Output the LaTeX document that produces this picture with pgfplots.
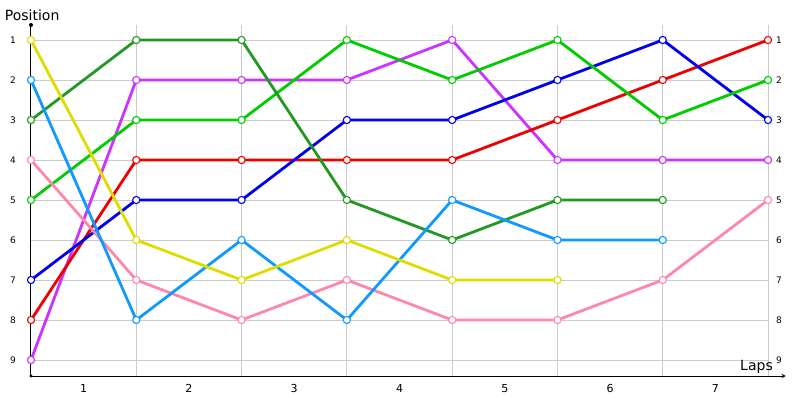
\documentclass[border=0pt]{standalone}
\usepackage{pgfplots}
\pgfplotsset{compat=1.18}
\usepackage{fontspec}
\setmainfont{DejaVu Sans}

\definecolor{cYellow}{RGB}{221,221,0}
\definecolor{cLBlue}{RGB}{17,153,255}
\definecolor{cDGreen}{RGB}{34,153,34}
\definecolor{cGreen}{RGB}{0,204,0}
\definecolor{cPink}{RGB}{255,136,170}
\definecolor{cBlue}{RGB}{0,0,238}
\definecolor{cRed}{RGB}{238,0,0}
\definecolor{cPurple}{RGB}{204,51,255}
\definecolor{cGrid}{RGB}{204,204,204}

\pgfplotsset{
  pos/.style={color=#1, line width=2.8pt, mark=*, mark size=3.6pt,
    mark options={fill=white, draw=#1, line width=1.1pt}},
}

\begin{document}
\begin{tikzpicture}
\begin{axis}[
  x=105.29pt, y=40pt, y dir=reverse,
  xmin=0, xmax=7, ymin=0.625, ymax=9.4,
  clip=false,
  axis line style={draw=none},
  major tick length=0pt,
  /pgf/number format/assume math mode=true,
  ytick={1,...,9},
  ymajorgrids,
  grid style={cGrid, line width=0.8pt},
  xtick={0.5,1.5,...,6.5},
  xticklabels={1,2,3,4,5,6,7},
  extra x ticks={1,2,3,4,5,6,7},
  extra x tick labels={},
  extra x tick style={xmajorgrids=true},
  yticklabel style={font=\fontsize{9}{9}\selectfont, inner sep=0pt, xshift=-15pt},
  xticklabel style={font=\fontsize{11}{11}\selectfont, inner sep=0pt, yshift=-8pt},
]
\path (axis cs:-0.2944,0) rectangle (axis cs:7.3035,10);

% drawn from last starting position to first
\addplot[pos=cPurple] coordinates {(0,9) (1,2) (2,2) (3,2) (4,1) (5,4) (6,4) (7,4)};
\addplot[pos=cRed] coordinates {(0,8) (1,4) (2,4) (3,4) (4,4) (5,3) (6,2) (7,1)};
\addplot[pos=cBlue] coordinates {(0,7) (1,5) (2,5) (3,3) (4,3) (5,2) (6,1) (7,3)};
\addplot[pos=cGreen] coordinates {(0,5) (1,3) (2,3) (3,1) (4,2) (5,1) (6,3) (7,2)};
\addplot[pos=cPink] coordinates {(0,4) (1,7) (2,8) (3,7) (4,8) (5,8) (6,7) (7,5)};
\addplot[pos=cDGreen] coordinates {(0,3) (1,1) (2,1) (3,5) (4,6) (5,5) (6,5)};
\addplot[pos=cLBlue] coordinates {(0,2) (1,8) (2,6) (3,8) (4,5) (5,6) (6,6)};
\addplot[pos=cYellow] coordinates {(0,1) (1,6) (2,7) (3,6) (4,7) (5,7)};

\draw[line width=1pt] (axis cs:0,9.4) -- (axis cs:0,0.625);
\fill (axis cs:0,0.625) circle (2pt);
\fill (axis cs:0,9.4) circle (1.6pt);
\draw[line width=1pt, -stealth] (axis cs:0,9.4) -- (axis cs:7.17,9.4);

\pgfplotsinvokeforeach{1,...,9}{
  \node[anchor=west, inner sep=0pt, font=\fontsize{9}{9}\selectfont, xshift=8pt] at (axis cs:7,#1) {#1};
}
\node[anchor=base west, inner sep=0pt, font=\fontsize{14}{14}\selectfont] at (axis cs:-0.25,0.525) {Position};
\node[anchor=base east, inner sep=0pt, font=\fontsize{14}{14}\selectfont] at (axis cs:7.047,9.25) {Laps};
\end{axis}
\end{tikzpicture}
\end{document}
